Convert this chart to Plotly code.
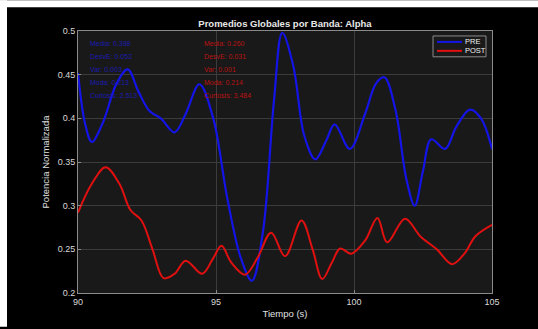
import plotly.graph_objects as go

# ---- data ----
t_pre = [90.0, 90.25, 90.5, 90.9, 91.4, 91.8, 92.2, 92.6, 93.0, 93.5, 93.9, 94.4, 94.9, 95.4, 95.9, 96.3,
         96.7, 97.1, 97.4, 97.8, 98.2, 98.6, 99.0, 99.3, 99.85, 100.4, 100.8, 101.1, 101.5, 101.9, 102.2,
         102.5, 102.8, 103.3, 103.7, 104.2, 104.6, 105.0]
v_pre = [0.452, 0.395, 0.373, 0.395, 0.44, 0.456, 0.43, 0.408, 0.4, 0.384, 0.405, 0.439, 0.40, 0.31, 0.24, 0.214,
         0.27, 0.42, 0.498, 0.46, 0.38, 0.353, 0.375, 0.393, 0.365, 0.405, 0.44, 0.447, 0.41, 0.33, 0.30,
         0.34, 0.376, 0.365, 0.39, 0.41, 0.40, 0.365]

t_post = [90.0, 90.5, 91.0, 91.5, 91.9, 92.3, 92.7, 93.1, 93.5, 93.9, 94.5, 94.9, 95.2, 95.55, 96.05, 96.5,
          97.0, 97.5, 98.1, 98.5, 98.85, 99.2, 99.5, 99.9, 100.4, 100.85, 101.2, 101.85, 102.4, 103.0, 103.55,
          104.0, 104.4, 105.0]
v_post = [0.292, 0.325, 0.344, 0.325, 0.295, 0.283, 0.25, 0.217, 0.222, 0.237, 0.222, 0.24, 0.254, 0.235, 0.221, 0.24,
          0.269, 0.242, 0.283, 0.25, 0.216, 0.235, 0.251, 0.245, 0.26, 0.286, 0.258, 0.285, 0.265, 0.25, 0.233,
          0.245, 0.265, 0.278]

x_ticks = [90, 95, 100, 105]
y_ticks = [0.2, 0.25, 0.3, 0.35, 0.4, 0.45, 0.5]
y_tick_labels = ["0.2", "0.25", "0.3", "0.35", "0.4", "0.45", "0.5"]

series_names = ["PRE", "POST"]
stats_pre = ["Media: 0.398", "DesvE: 0.052", "Var: 0.003", "Moda: 0.213", "Curtosis: 2.513"]
stats_post = ["Media: 0.260", "DesvE: 0.031", "Var: 0.001", "Moda: 0.214", "Curtosis: 3.484"]

FONT = "Liberation Sans, Arial, sans-serif"
BLUE = "#1414e6"
RED = "#e01010"

fig = go.Figure()
fig.add_trace(go.Scatter(x=t_pre, y=v_pre, mode="lines", name=series_names[0],
                         line=dict(color=BLUE, width=2.2, shape="spline", smoothing=1.0)))
fig.add_trace(go.Scatter(x=t_post, y=v_post, mode="lines", name=series_names[1],
                         line=dict(color=RED, width=2.0, shape="spline", smoothing=1.0)))

L, R, T, B = 78, 46, 31, 34
W, H = 538, 329
pw, ph = W - L - R, H - T - B

def px2x(px):
    return (px - L) / pw

def py2y(py):
    return (H - B - py) / ph

annotations = []
row_y = [44, 57, 70, 83, 96]
for i, s in enumerate(stats_pre):
    annotations.append(dict(x=px2x(88), y=py2y(row_y[i]), xref="paper", yref="paper", text=s,
                            showarrow=False, xanchor="left", yanchor="middle",
                            font=dict(family=FONT, size=7, color="#1c1cb0")))
for i, s in enumerate(stats_post):
    annotations.append(dict(x=px2x(202), y=py2y(row_y[i]), xref="paper", yref="paper", text=s,
                            showarrow=False, xanchor="left", yanchor="middle",
                            font=dict(family=FONT, size=7, color="#b81212")))

shapes = [
    dict(type="rect", xref="paper", yref="paper", x0=px2x(0), x1=px2x(7), y0=py2y(H), y1=py2y(0),
         fillcolor="white", line=dict(width=0), layer="above"),
    dict(type="rect", xref="paper", yref="paper", x0=px2x(0), x1=px2x(W), y0=py2y(7), y1=py2y(0),
         fillcolor="white", line=dict(width=0), layer="above"),
    # legend box
    dict(type="rect", xref="paper", yref="paper", x0=px2x(433), x1=px2x(486), y0=py2y(57), y1=py2y(36),
         fillcolor="#1a1a1a", line=dict(color="#8a8a8a", width=1), layer="above"),
]
leg_rows = [42, 51]
leg_cols = [BLUE, RED]
for i, name in enumerate(series_names):
    shapes.append(dict(type="line", xref="paper", yref="paper", x0=px2x(437), x1=px2x(462),
                       y0=py2y(leg_rows[i]), y1=py2y(leg_rows[i]),
                       line=dict(color=leg_cols[i], width=2), layer="above"))
    annotations.append(dict(x=px2x(463), y=py2y(leg_rows[i]), xref="paper", yref="paper", text=name,
                            showarrow=False, xanchor="left", yanchor="middle",
                            font=dict(family=FONT, size=7.5, color="#f0f0f0")))

axis_common = dict(showgrid=True, gridcolor="#3c3c3c", gridwidth=1, zeroline=False,
                   showline=True, linecolor="#8a8a8a", linewidth=1, mirror=True,
                   ticks="inside", ticklen=3, tickcolor="#8a8a8a",
                   tickfont=dict(family=FONT, size=9, color="#d8d8d8"))

fig.update_layout(
    width=W, height=H,
    margin=dict(l=L, r=R, t=T, b=B),
    paper_bgcolor="black", plot_bgcolor="#191919",
    title=dict(text="<b>Promedios Globales por Banda: Alpha</b>", x=285 / W,
               xanchor="center", y=1 - 24 / H, yanchor="middle",
               font=dict(family=FONT, size=9.5, color="#e8e8e8")),
    xaxis=dict(range=[90, 105], tickvals=x_ticks, ticktext=[str(v) for v in x_ticks],
               title=dict(text="Tiempo (s)", standoff=4, font=dict(family=FONT, size=9.5, color="#e0e0e0")),
               **axis_common),
    yaxis=dict(range=[0.2, 0.5], tickvals=y_ticks, ticktext=y_tick_labels,
               title=dict(text="Potencia Normalizada", standoff=6, font=dict(family=FONT, size=9.5, color="#e0e0e0")),
               **axis_common),
    annotations=annotations,
    shapes=shapes,
    showlegend=False,
)

fig.write_html("out.html", config={"responsive": False})
